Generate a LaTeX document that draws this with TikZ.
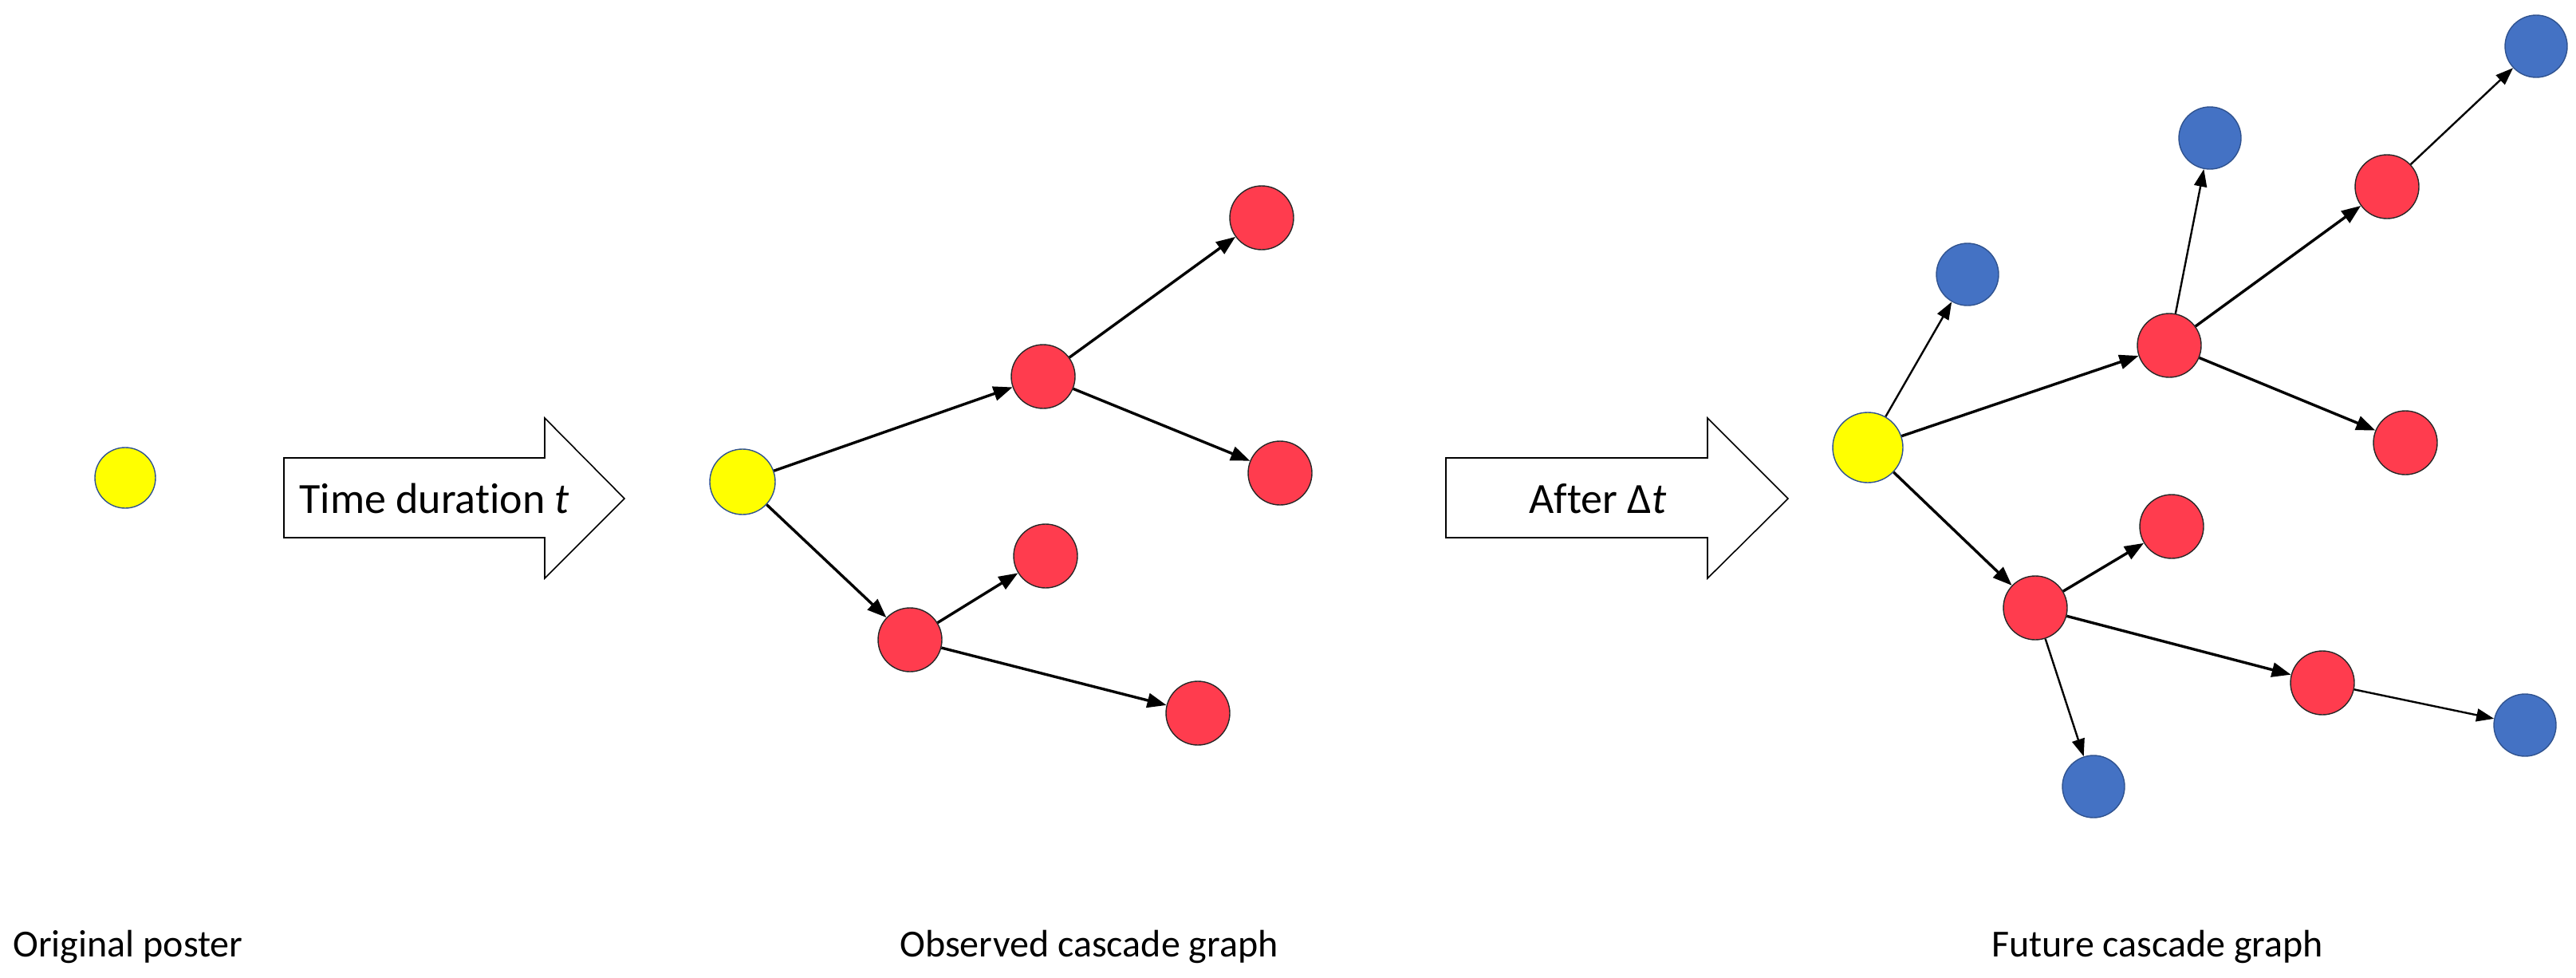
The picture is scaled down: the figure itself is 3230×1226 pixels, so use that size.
\documentclass[tikz,border=0pt]{standalone}
\usepackage{fontspec}
\setmainfont[Ligatures=NoCommon]{Carlito}
\usetikzlibrary{arrows.meta}
\definecolor{nodered}{RGB}{255,60,78}
\definecolor{nodeblue}{RGB}{68,114,196}
\definecolor{nodeblueedge}{RGB}{47,82,143}
\definecolor{yel}{RGB}{255,255,0}
\begin{document}
\begin{tikzpicture}[x=0.5pt,y=-0.5pt,
  vtx/.style={circle,inner sep=0pt,line width=0.7pt},
  rednode/.style={vtx,fill=nodered,draw=black!85,minimum size=40pt},
  bluenode/.style={vtx,fill=nodeblue,draw=nodeblueedge,minimum size=39pt},
  yelnode/.style={vtx,fill=yel,draw=nodeblueedge,minimum size=#1},
  edge/.style={line width=1.7pt,-{Triangle[length=12pt,width=9pt]}},
  thinedge/.style={line width=1.2pt,-{Triangle[length=11pt,width=8pt]}},
  bigarrow/.style={draw=black,line width=0.8pt,fill=white,line join=miter},
  arrowtext/.style={font=\fontsize{27pt}{32pt}\selectfont,anchor=base west,inner sep=0pt},
  caption/.style={font=\fontsize{24pt}{29pt}\selectfont,anchor=base west,inner sep=0pt}]
\useasboundingbox (0,0) rectangle (3230,1226);

% original poster
\node[yelnode=38pt] (y0) at (157,599) {};

% arrow 1
\draw[bigarrow] (356,574) -- (683,574) -- (683,524) -- (783,625) -- (683,725) -- (683,674) -- (356,674) -- cycle;
\node[arrowtext] (t1) at (375,643) {Time duration \textit{t}};

% observed cascade graph
\node[yelnode=41pt] (y1) at (931,604) {};
\node[rednode] (ra) at (1308,472) {};
\node[rednode] (rb) at (1582,273) {};
\node[rednode] (rc) at (1605,593) {};
\node[rednode] (rd) at (1141,802) {};
\node[rednode] (re) at (1311,697) {};
\node[rednode] (rf) at (1502,894) {};
\draw[edge] (y1) -- (ra);
\draw[edge] (y1) -- (rd);
\draw[edge] (ra) -- (rb);
\draw[edge] (ra) -- (rc);
\draw[edge] (rd) -- (re);
\draw[edge] (rd) -- (rf);

% arrow 2
\draw[bigarrow] (1813,574) -- (2141,574) -- (2141,524) -- (2242,625) -- (2141,725) -- (2141,674) -- (1813,674) -- cycle;
\node[arrowtext] (t2) at (1917,643) {After Δ\textit{t}};

% future cascade graph
\node[yelnode=44pt] (y2) at (2342,561) {};
\node[bluenode] (b1) at (2467,344) {};
\node[rednode] (r1) at (2720,433) {};
\node[bluenode] (b2) at (2771,173) {};
\node[rednode] (r2) at (2993,234) {};
\node[bluenode] (b3) at (3180,58) {};
\node[rednode] (r3) at (3016,555) {};
\node[rednode] (r4) at (2552,762) {};
\node[rednode] (r5) at (2723,660) {};
\node[rednode] (r6) at (2912,856) {};
\node[bluenode] (b4) at (3166,909) {};
\node[bluenode] (b5) at (2625,986) {};
\draw[thinedge] (y2) -- (b1);
\draw[edge] (y2) -- (r1);
\draw[edge] (y2) -- (r4);
\draw[thinedge] (r1) -- (b2);
\draw[edge] (r1) -- (r2);
\draw[edge] (r1) -- (r3);
\draw[thinedge] (r2) -- (b3);
\draw[edge] (r4) -- (r5);
\draw[edge] (r4) -- (r6);
\draw[thinedge] (r4) -- (b5);
\draw[thinedge] (r6) -- (b4);

% captions
\node[caption] (c1) at (16,1199) {Original poster};
\node[caption] (c2) at (1128,1199) {Observed cascade graph};
\node[caption] (c3) at (2497,1199) {Future cascade graph};
\end{tikzpicture}
\end{document}
